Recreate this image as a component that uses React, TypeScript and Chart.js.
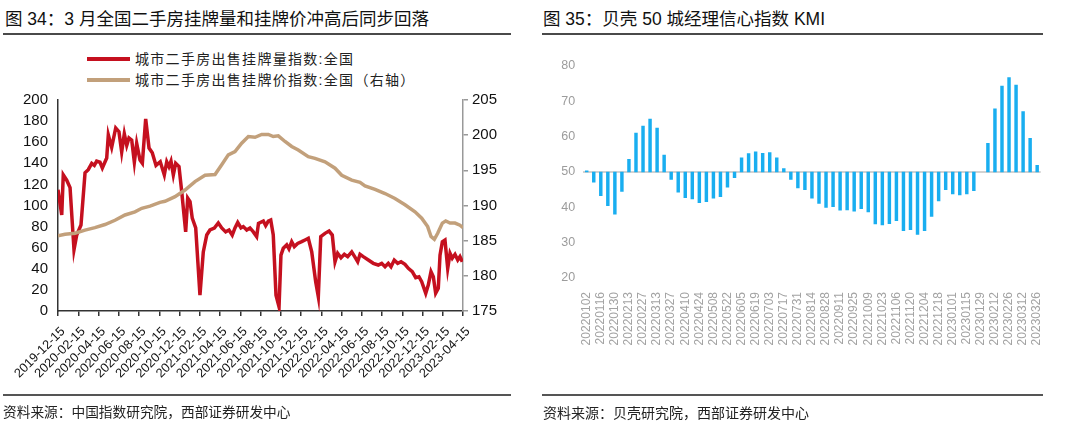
import React, { useEffect, useRef } from 'react';
import { Chart, registerables } from 'chart.js';

Chart.register(...registerables);

// ---------- Figure 34 data (x = months after 2019-12-15) ----------
const xTickLabels = [
  '2019-12-15', '2020-02-15', '2020-04-15', '2020-06-15', '2020-08-15', '2020-10-15',
  '2020-12-15', '2021-02-15', '2021-04-15', '2021-06-15', '2021-08-15', '2021-10-15',
  '2021-12-15', '2022-02-15', '2022-04-15', '2022-06-15', '2022-08-15', '2022-10-15',
  '2022-12-15', '2023-02-15', '2023-04-15',
];

const volMonths = [
  0, 0.37, 0.52, 0.86, 1.19, 1.58, 1.85, 2.27, 2.67, 2.99, 3.33, 3.59, 3.82, 4.15, 4.38,
  4.81, 4.97, 5.3, 5.7, 6.02, 6.29, 6.55, 6.79, 7.01, 7.28, 7.54, 7.77, 8.1, 8.33, 8.66,
  8.99, 9.31, 9.68, 10.1, 10.5, 10.74, 10.96, 11.16, 11.39, 11.62, 11.95, 12.22, 12.61,
  12.81, 13.04, 13.26, 13.6, 14.02, 14.35, 14.69, 15.01, 15.44, 15.83, 16.17, 16.56, 16.89,
  17.21, 17.48, 17.75, 18.07, 18.3, 18.64, 18.96, 19.29, 19.62, 19.8, 20.28, 20.51, 20.77,
  21.01, 21.26, 21.53, 21.83, 22.02, 22.25, 22.59, 22.81, 23.08, 23.34, 23.67, 24.07, 24.4,
  24.72, 25.06, 25.45, 25.71, 25.95, 26.37, 26.77, 27.09, 27.36, 27.62, 27.95, 28.28, 28.61,
  29.01, 29.33, 29.6, 29.83, 30.15, 30.65, 31.14, 31.63, 31.97, 32.3, 32.62, 32.89, 33.21,
  33.55, 33.88, 34.27, 34.6, 34.99, 35.33, 35.65, 35.92, 36.32, 36.57, 36.84, 37.07, 37.3,
  37.56, 37.73, 37.96, 38.22, 38.49, 38.72, 38.94, 39.21, 39.48, 39.7, 39.93,
];
const volValues = [
  115, 91, 129, 124, 117, 58, 72, 81.5, 131, 134, 140, 138, 142, 141, 135.5,
  145, 167, 155, 173.5, 170, 150.7, 168, 157, 164, 162, 141, 159, 143, 140, 182,
  154.5, 150, 138, 141.5, 129, 141.5, 136.8, 142, 129, 140, 137, 113, 75,
  107, 103.6, 88, 78.7, 15, 56, 72, 76.8, 78.7, 83.4, 78.7, 75, 76.8,
  72, 78.7, 84, 78.7, 80, 76.8, 78.7, 75, 70.5, 83, 85.3, 81, 85.3,
  86.3, 72, 15, 4, 53, 59.4, 62.6, 58.8, 65.7, 61, 64, 65.7, 67.3,
  68.9, 56, 27.8, 13.6, 70.5, 73.6, 75.8, 72, 46.7, 54.7, 50.5, 53.7, 51.5,
  56, 51, 46.7, 53.7, 51.5, 48.3, 45.2, 43.6, 45.2, 42, 45.2, 42, 48.3,
  45.2, 46.7, 44.2, 40.4, 37.3, 31.6, 32.5, 27.8, 16.8, 24.6, 37.3, 32.5, 16.8,
  21.5, 53, 65.7, 67.3, 40.4, 54.7, 50, 53.7, 48.3, 51.5, 46.7,
];

const priceMonths = [
  0, 0.69, 1.68, 2.67, 3.65, 4.64, 5.63, 6.62, 7.6, 8.27, 9.09, 10.07, 10.57, 11.56, 12.54,
  13.53, 14.52, 15.51, 16.17, 16.82, 17.48, 18.14, 18.8, 19.46, 20.12, 20.77, 21.26, 21.76,
  22.42, 23.08, 23.73, 24.72, 25.38, 26.37, 27.36, 28.02, 29.01, 29.83, 30.32, 31.31, 32.3,
  33.28, 34.27, 35.26, 35.92, 36.51, 36.84, 37.17, 37.5, 37.96, 38.29, 38.72, 39.21, 39.7, 40,
];
const priceValues = [
  185.7, 185.9, 186.05, 186.5, 186.85, 187.3, 187.9, 188.65, 189.1, 189.6, 189.9, 190.45, 190.6, 191.25, 192.2,
  193.4, 194.3, 194.4, 195.8, 197.2, 197.65, 198.85, 199.8, 199.7, 200.1, 200.1, 199.8, 199.9,
  199.1, 198.4, 197.9, 196.95, 196.7, 196.2, 195.3, 194.3, 193.6, 193.3, 192.8, 192.3, 191.7,
  191.0, 190.1, 189.1, 188.2, 187.0, 185.6, 185.2, 186.05, 187.5, 187.8, 187.5, 187.5, 187.2, 186.85,
];

// ---------- Figure 35 data (KMI weekly) ----------
const kmiDates = [
  '20220102', '20220109', '20220116', '20220123', '20220130', '20220206', '20220213', '20220220',
  '20220227', '20220306', '20220313', '20220320', '20220327', '20220403', '20220410', '20220417',
  '20220424', '20220501', '20220508', '20220515', '20220522', '20220529', '20220605', '20220612',
  '20220619', '20220626', '20220703', '20220710', '20220717', '20220724', '20220731', '20220807',
  '20220814', '20220821', '20220828', '20220904', '20220911', '20220918', '20220925', '20221002',
  '20221009', '20221016', '20221023', '20221030', '20221106', '20221113', '20221120', '20221127',
  '20221204', '20221211', '20221218', '20221225', '20230101', '20230108', '20230115', '20230122',
  '20230129', '20230205', '20230212', '20230219', '20230226', '20230305', '20230312', '20230319',
  '20230326',
];
const kmiValues: (number | null)[] = [
  50.3, 47.1, 43.3, 40.5, 38.1, 44.5, 53.6, 61, 63, 65, 62.4, 54.8, 47.9, 44.3, 42.7, 42.4,
  41.3, 41.6, 42.6, 43.0, 45.7, 48.4, 54, 55.2, 55.7, 55.3, 55.5, 54, 51, 47.9, 45.5, 45.0,
  42.6, 41.1, 40, 40.2, 39.2, 39.3, 38.9, 39.6, 38.7, 35.3, 35, 35.4, 36.2, 33.4, 33.7, 32.3,
  33.4, 37.4, 41.8, 45, 43.8, 43.5, 43.8, 44.7, null, 58.1, 67.9, 74.3, 76.7, 74.6, 67.1, 59.5,
  51.9,
];
const kmiBase = 50;

const RED = '#C5101F';
const TAN = '#C2A07B';
const BLUE = '#19AEF0';
const SANS = '"Liberation Sans", Arial, "Noto Sans CJK SC", sans-serif';
const CJK = '"Liberation Sans", "Noto Sans CJK SC", sans-serif';

function LeftChart() {
  const ref = useRef<HTMLCanvasElement>(null);
  useEffect(() => {
    const chart = new Chart(ref.current!, {
      type: 'line',
      data: {
        datasets: [
          {
            label: '城市二手房出售挂牌价指数:全国（右轴）',
            data: priceMonths.map((m, i) => ({ x: m, y: priceValues[i] })),
            yAxisID: 'y2',
            borderColor: TAN,
            borderWidth: 3.5,
            pointRadius: 0,
            tension: 0,
            order: 0,
          },
          {
            label: '城市二手房出售挂牌量指数:全国',
            data: volMonths.map((m, i) => ({ x: m, y: volValues[i] })),
            yAxisID: 'y',
            borderColor: RED,
            borderWidth: 3.5,
            pointRadius: 0,
            tension: 0,
            order: 1,
          },
        ],
      },
      options: {
        responsive: false,
        animation: false,
        layout: { padding: { top: 100, left: 0, right: 0, bottom: 0 } },
        plugins: { legend: { display: false }, tooltip: { enabled: false } },
        scales: {
          x: {
            type: 'linear',
            min: 0,
            max: 40,
            grid: { drawOnChartArea: false, drawTicks: true, tickLength: 5, color: '#333', lineWidth: 1.5 },
            border: { color: '#333', width: 1.5 },
            ticks: {
              stepSize: 2,
              autoSkip: false,
              maxRotation: 45,
              minRotation: 45,
              padding: 8,
              labelOffset: 5,
              color: '#111',
              font: { family: SANS, size: 12.8 },
              callback: (v: any) => xTickLabels[Math.round(Number(v) / 2)] ?? '',
            },
            afterFit: (s: any) => { s.height = 84; },
          },
          y: {
            position: 'left',
            min: 0,
            max: 200,
            grid: { drawOnChartArea: false, drawTicks: false },
            border: { color: '#333', width: 1.5 },
            ticks: { stepSize: 20, padding: 10, color: '#111', font: { family: SANS, size: 15 } },
            afterFit: (s: any) => { s.width = 58; },
          },
          y2: {
            position: 'right',
            min: 175,
            max: 205,
            grid: { drawOnChartArea: false, drawTicks: true, tickLength: 5, color: '#999', lineWidth: 1.5 },
            border: { color: '#999', width: 1.5 },
            ticks: { stepSize: 5, padding: 4, color: '#111', font: { family: SANS, size: 15 } },
            afterFit: (s: any) => { s.width = 67; },
          },
        },
      },
    });
    return () => chart.destroy();
  }, []);
  return <canvas ref={ref} width={530} height={395} style={{ position: 'absolute', left: 0, top: 0 }} />;
}

function RightChart() {
  const ref = useRef<HTMLCanvasElement>(null);
  useEffect(() => {
    const chart = new Chart(ref.current!, {
      type: 'bar',
      data: {
        labels: kmiDates,
        datasets: [
          {
            label: 'KMI',
            data: kmiValues.map((v) => (v == null ? null : [kmiBase, v])) as any,
            backgroundColor: BLUE,
            barThickness: 2.8,
          },
        ],
      },
      options: {
        responsive: false,
        animation: false,
        layout: { padding: { top: 66, right: 27.3, left: 0, bottom: 0 } },
        plugins: { legend: { display: false }, tooltip: { enabled: false } },
        scales: {
          x: {
            grid: { display: false },
            border: { display: false },
            ticks: {
              autoSkip: false,
              minRotation: 90,
              maxRotation: 90,
              padding: 6,
              color: '#a3a3a3',
              font: { family: SANS, size: 12 },
              callback: function (this: any, v: any, i: number) {
                return i % 2 === 0 ? kmiDates[i] : '';
              },
            },
            afterFit: (s: any) => { s.height = 117; },
          },
          y: {
            min: 20,
            max: 80,
            grid: {
              drawTicks: false,
              color: (c: any) => (c.tick && c.tick.value === kmiBase ? '#d2d2d2' : 'rgba(0,0,0,0)'),
              lineWidth: 2,
            },
            border: { display: false },
            ticks: {
              stepSize: 10,
              padding: 8,
              color: '#9c9c9c',
              font: { family: '"Liberation Sans Narrow", "Arial Narrow", ' + SANS, size: 12.5 },
            },
            afterFit: (s: any) => { s.width = 53.2; },
          },
        },
      },
    });
    return () => chart.destroy();
  }, []);
  return <canvas ref={ref} width={538} height={395} style={{ position: 'absolute', left: 530, top: 0 }} />;
}

const lineStyle = (left: number, top: number, width: number, h = 2, color = '#4a4a4a') => ({
  position: 'absolute' as const, left, top, width, height: h, background: color,
});

export default function App() {
  return (
    <div style={{ position: 'absolute', left: 0, top: 0, width: 1068, height: 427, background: '#fff', overflow: 'hidden' }}>
      {/* Titles */}
      <div style={{ position: 'absolute', left: 5, top: 8, fontFamily: CJK, fontSize: 17.5, lineHeight: '22px', color: '#111', whiteSpace: 'nowrap' }}>
        图 34：3 月全国二手房挂牌量和挂牌价冲高后同步回落
      </div>
      <div style={lineStyle(3, 33, 508)} />
      <div style={{ position: 'absolute', left: 543, top: 8, fontFamily: CJK, fontSize: 17.5, lineHeight: '22px', color: '#111', whiteSpace: 'nowrap' }}>
        图 35：贝壳 50 城经理信心指数 KMI
      </div>
      <div style={lineStyle(542, 33, 501)} />

      {/* Legend of fig 34 */}
      <div style={lineStyle(87, 57, 43, 4, RED)} />
      <div style={{ position: 'absolute', left: 135, top: 49, fontFamily: CJK, fontSize: 14, lineHeight: '20px', letterSpacing: 1.3, color: '#222', whiteSpace: 'nowrap' }}>
        城市二手房出售挂牌量指数:全国
      </div>
      <div style={lineStyle(87, 78, 43, 4, TAN)} />
      <div style={{ position: 'absolute', left: 135, top: 70, fontFamily: CJK, fontSize: 14, lineHeight: '20px', letterSpacing: 1.3, color: '#222', whiteSpace: 'nowrap' }}>
        城市二手房出售挂牌价指数:全国（右轴）
      </div>

      <LeftChart />
      <RightChart />

      {/* Footers */}
      <div style={lineStyle(3, 394, 508, 1.5, '#555')} />
      <div style={{ position: 'absolute', left: 3, top: 403, fontFamily: CJK, fontSize: 13.7, lineHeight: '20px', color: '#222', whiteSpace: 'nowrap' }}>
        资料来源：中国指数研究院，西部证券研发中心
      </div>
      <div style={lineStyle(542, 394, 501, 1.5, '#555')} />
      <div style={{ position: 'absolute', left: 543, top: 403, fontFamily: CJK, fontSize: 14, lineHeight: '20px', color: '#222', whiteSpace: 'nowrap' }}>
        资料来源：贝壳研究院，西部证券研发中心
      </div>
    </div>
  );
}
